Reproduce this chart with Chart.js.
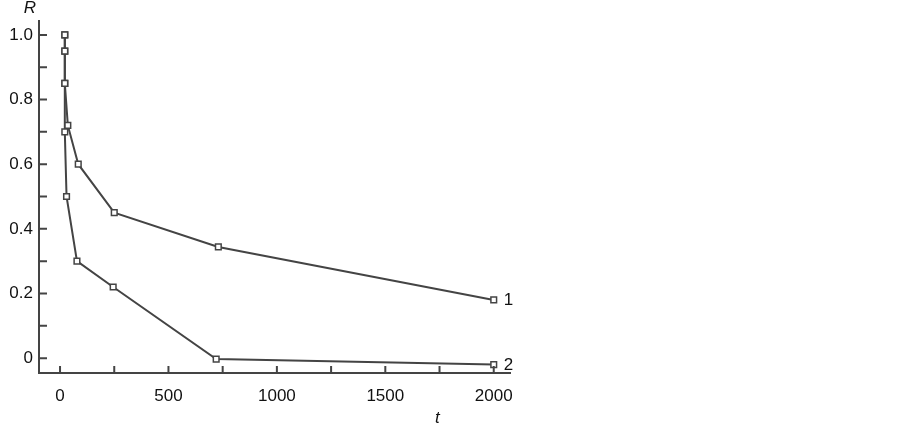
<!DOCTYPE html>
<html>
<head>
<meta charset="utf-8">
<script src="https://cdn.jsdelivr.net/npm/chart.js@4/dist/chart.umd.min.js"></script>
<style>
  html, body { margin: 0; padding: 0; background: #fff; }
  #wrap { width: 903px; height: 429px; position: relative; }
</style>
</head>
<body>
<div id="wrap"><canvas id="chart"></canvas></div>
<script>
// Curve 1 and curve 2: R against t
const T1 = [22, 22, 22, 36, 84, 250, 730, 2000];
const R1 = [1.0, 0.95, 0.85, 0.72, 0.60, 0.45, 0.344, 0.18];
const T2 = [22, 22, 22, 22, 30, 78, 245, 720, 2000];
const R2 = [1.0, 0.95, 0.85, 0.70, 0.50, 0.30, 0.22, -0.003, -0.02];
const CURVE_LABELS = ['1', '2'];

const X_MAJOR = [0, 500, 1000, 1500, 2000];
const X_MINOR = [250, 750, 1250, 1750];
const Y_MAJOR = [0, 0.2, 0.4, 0.6, 0.8, 1.0];
const Y_MINOR = [0.1, 0.3, 0.5, 0.7, 0.9];

const INK = '#444';
const FONT = { family: "'Liberation Sans', Arial, sans-serif", size: 17 };

// inward tick marks, curve numbers and the R / t axis letters
const decorPlugin = {
  id: 'decor',
  afterDraw(chart) {
    const { ctx, chartArea: a, scales: { x, y } } = chart;
    ctx.save();
    ctx.strokeStyle = INK;
    ctx.lineWidth = 2;
    ctx.beginPath();
    for (const v of [...X_MAJOR, ...X_MINOR]) {
      const px = x.getPixelForValue(v);
      ctx.moveTo(px, a.bottom);
      ctx.lineTo(px, a.bottom - 7);
    }
    for (const v of [...Y_MAJOR, ...Y_MINOR]) {
      const py = y.getPixelForValue(v);
      ctx.moveTo(a.left, py);
      ctx.lineTo(a.left + 8, py);
    }
    ctx.stroke();

    ctx.fillStyle = '#111';
    ctx.font = `${FONT.size}px ${FONT.family}`;
    ctx.textBaseline = 'middle';
    ctx.textAlign = 'left';
    chart.data.datasets.forEach((ds, i) => {
      const pts = chart.getDatasetMeta(i).data;
      const last = pts[pts.length - 1];
      ctx.fillText(CURVE_LABELS[i], last.x + 10, last.y + (i === 1 ? 1 : 0));
    });

    ctx.font = `italic ${FONT.size}px ${FONT.family}`;
    ctx.textAlign = 'center';
    ctx.fillText('R', a.left - 9, a.top - 13);
    ctx.fillText('t', x.getPixelForValue(1740), a.bottom + 45);
    ctx.restore();
  },
};

const lineStyle = {
  borderColor: INK,
  borderWidth: 2,
  pointStyle: 'rect',
  pointRadius: 4,
  pointBackgroundColor: '#fff',
  pointBorderColor: INK,
  pointBorderWidth: 1.5,
  tension: 0,
  clip: false,
};

new Chart(document.getElementById('chart'), {
  type: 'line',
  data: {
    datasets: [
      { ...lineStyle, label: '1', data: T1.map((t, i) => ({ x: t, y: R1[i] })) },
      { ...lineStyle, label: '2', data: T2.map((t, i) => ({ x: t, y: R2[i] })) },
    ],
  },
  options: {
    responsive: true,
    maintainAspectRatio: false,
    animation: false,
    layout: { padding: { left: 0, top: 21, right: 393, bottom: 0 } },
    plugins: { legend: { display: false }, tooltip: { enabled: false } },
    scales: {
      x: {
        type: 'linear',
        min: -97, max: 2075,
        afterBuildTicks: s => { s.ticks = X_MAJOR.map(v => ({ value: v })); },
        afterFit: s => { s.height = 56; },
        ticks: { color: '#111', font: FONT, padding: 13, maxRotation: 0, callback: v => String(v) },
        grid: { display: false, drawTicks: false },
        border: { color: INK, width: 2 },
      },
      y: {
        min: -0.046, max: 1.043,
        afterBuildTicks: s => { s.ticks = Y_MAJOR.map(v => ({ value: v })); },
        afterFit: s => { s.width = 39; },
        ticks: {
          color: '#111', font: FONT, padding: 6,
          callback: v => (v === 0 ? '0' : v.toFixed(1)),
        },
        grid: { display: false, drawTicks: false },
        border: { color: INK, width: 2 },
      },
    },
  },
  plugins: [decorPlugin],
});
</script>
</body>
</html>
